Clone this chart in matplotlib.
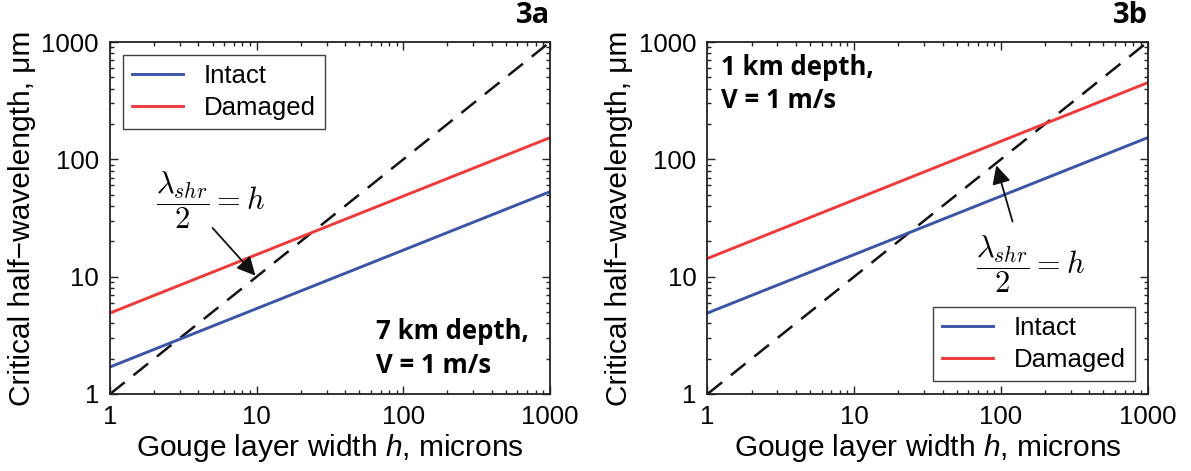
import matplotlib
matplotlib.use("Agg")
import matplotlib.pyplot as plt

# data (log-log straight lines, endpoints)
h = [1, 1000]
intact_a = [1.7, 53]
damaged_a = [4.9, 153]
intact_b = [4.9, 153]
damaged_b = [14.3, 450]

xticks = [1, 10, 100, 1000]
yticks = [1, 10, 100, 1000]

plt.rcParams["font.family"] = ["Liberation Sans", "DejaVu Sans"]
plt.rcParams["mathtext.fontset"] = "custom"
plt.rcParams["mathtext.it"] = "Liberation Sans:italic"
plt.rcParams["mathtext.rm"] = "Liberation Sans"

BLUE = "#3a55a8"
RED = "#ee3a3a"
LBL = 21.5
TICK = 18.5
DASH = (0, (7.5, 4.5))


def setup(ax):
    ax.set_xscale("log")
    ax.set_yscale("log")
    ax.set_xlim(1, 1000)
    ax.set_ylim(1, 1000)
    ax.set_xticks(xticks)
    ax.set_xticklabels([str(t) for t in xticks])
    ax.set_yticks(yticks)
    ax.set_yticklabels([str(t) for t in yticks])
    ax.tick_params(which="both", direction="in", top=True, right=True,
                   labelsize=TICK, color="#222222", width=1)
    ax.tick_params(which="major", length=6, pad=8)
    ax.tick_params(which="minor", length=3)
    for s in ax.spines.values():
        s.set_linewidth(1.3)
        s.set_color("#222222")
    ax.set_xlabel("Gouge layer width $h$, microns", fontsize=LBL, labelpad=2)
    ax.set_ylabel("Critical half\u2212wavelength, \u03bcm", fontsize=LBL, labelpad=4)


fig = plt.figure(figsize=(11.91, 4.71), dpi=100)
ax1 = fig.add_axes([0.0924, 0.1635, 0.3694, 0.7473])
ax2 = fig.add_axes([0.594, 0.1635, 0.3696, 0.7473])

frac = r"$\dfrac{\lambda_{shr}}{2} = h$"

# panel a
setup(ax1)
ax1.plot(h, h, color="#111111", lw=1.8, ls=DASH)
ax1.plot(h, intact_a, color=BLUE, lw=2.1, label="Intact")
ax1.plot(h, damaged_a, color=RED, lw=2.1, label="Damaged")
ax1.annotate("", xy=(9.8, 10.2), xytext=(5.0, 26),
             arrowprops=dict(arrowstyle="-|>", color="#111111", lw=1.3,
                             mutation_scale=28, shrinkA=0, shrinkB=0))
ax1.text(4.8, 45, frac, fontsize=22, math_fontfamily="cm", ha="center", va="center")
ax1.text(0.605, 0.129, "7 km depth,\nV = 1 m/s", transform=ax1.transAxes,
         family="Open Sans", fontweight="bold", fontsize=18.5, ha="left", va="center",
         linespacing=1.3)
leg = ax1.legend(loc="upper left", fontsize=18.5, frameon=True, fancybox=False,
                 edgecolor="#111111", borderaxespad=0.5, handlelength=2.0,
                 borderpad=0.35, labelspacing=0.3, handletextpad=0.8)
leg.get_frame().set_linewidth(1.0)
fig.text(0.4618, 0.968, "3a", family="Open Sans", fontweight="bold", fontsize=21,
         ha="right", va="center")

# panel b
setup(ax2)
ax2.plot(h, h, color="#111111", lw=1.8, ls=DASH)
ax2.plot(h, intact_b, color=BLUE, lw=2.1, label="Intact")
ax2.plot(h, damaged_b, color=RED, lw=2.1, label="Damaged")
ax2.annotate("", xy=(93, 89), xytext=(120, 29.5),
             arrowprops=dict(arrowstyle="-|>", color="#111111", lw=1.3,
                             mutation_scale=28, shrinkA=0, shrinkB=0))
ax2.text(158, 12.8, frac, fontsize=22, math_fontfamily="cm", ha="center", va="center")
ax2.text(0.03, 0.881, "1 km depth,\nV = 1 m/s", transform=ax2.transAxes,
         family="Open Sans", fontweight="bold", fontsize=18.5, ha="left", va="center",
         linespacing=1.3)
leg = ax2.legend(loc="lower right", fontsize=18.5, frameon=True, fancybox=False,
                 edgecolor="#111111", borderaxespad=0.5, handlelength=2.0,
                 borderpad=0.35, labelspacing=0.3, handletextpad=0.8)
leg.get_frame().set_linewidth(1.0)
fig.text(0.9636, 0.968, "3b", family="Open Sans", fontweight="bold", fontsize=21,
         ha="right", va="center")

fig.savefig("out.png", dpi=100)
